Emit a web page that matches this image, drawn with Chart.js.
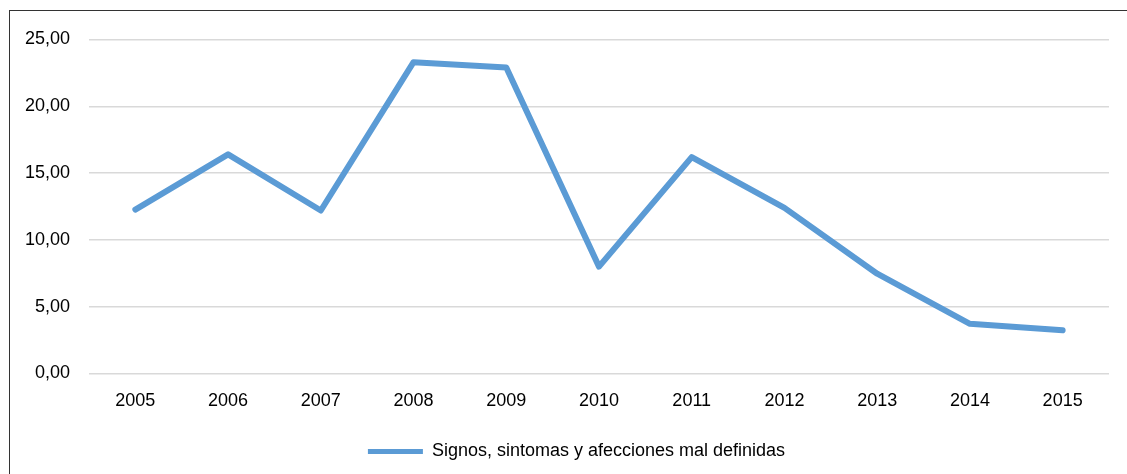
<!DOCTYPE html>
<html><head><meta charset="utf-8">
<script src="https://cdn.jsdelivr.net/npm/chart.js@4"></script>
<style>
html,body{margin:0;padding:0;background:#fff;overflow:hidden}
#wrap{position:relative;width:1127px;height:474px;overflow:hidden}
#frame{position:absolute;left:8.5px;top:9.5px;width:1300px;height:700px;border:1.5px solid #333;pointer-events:none}
canvas{position:absolute;left:0;top:0}
</style></head>
<body><div id="wrap"><canvas id="c" width="1127" height="474"></canvas><div id="frame"></div></div>
<script>
const years = ['2005','2006','2007','2008','2009','2010','2011','2012','2013','2014','2015'];
const values = [12.27, 16.4, 12.2, 23.3, 22.9, 8.0, 16.2, 12.4, 7.47, 3.72, 3.24];
const yMin = 0, yMax = 25, yStep = 5;
const seriesName = 'Signos, sintomas y afecciones mal definidas';
const FONT = "'Liberation Sans', Arial, sans-serif";

const legendShift = {
  id: 'legendShift',
  afterLayout(chart) {
    const lg = chart.legend;
    if (lg) { lg.left += 22; lg.right += 22; }
  }
};

new Chart(document.getElementById('c'), {
  type: 'line',
  data: {
    labels: years,
    datasets: [{
      label: seriesName,
      data: values,
      borderColor: '#5B9BD5',
      backgroundColor: '#5B9BD5',
      borderWidth: 6,
      borderCapStyle: 'round',
      borderJoinStyle: 'round',
      pointRadius: 0,
      tension: 0,
      fill: false
    }]
  },
  plugins: [legendShift],
  options: {
    responsive: false,
    animation: false,
    layout: { padding: { left: 0, right: 18, top: 39.5, bottom: 3.5 } },
    plugins: {
      tooltip: { enabled: false },
      legend: {
        position: 'bottom',
        labels: {
          color: '#000',
          font: { family: FONT, size: 18 },
          boxWidth: 55,
          boxHeight: 5,
          useBorderRadius: true,
          borderRadius: 2.5,
          padding: 14,
          generateLabels: (chart) => [{
            text: seriesName, fillStyle: '#5B9BD5', strokeStyle: '#5B9BD5', lineWidth: 0, datasetIndex: 0
          }]
        }
      }
    },
    scales: {
      x: {
        offset: true,
        grid: { display: false, drawTicks: false },
        border: { display: false },
        ticks: { color: '#000', font: { family: FONT, size: 18 }, padding: 16.7, maxRotation: 0 }
      },
      y: {
        min: yMin, max: yMax,
        afterFit: (s) => { s.width = 89; },
        grid: { color: '#d9d9d9', lineWidth: 1.5, drawTicks: false },
        border: { display: false },
        ticks: {
          stepSize: yStep, color: '#000', padding: 19,
          font: { family: FONT, size: 18 },
          callback: (v) => v.toFixed(2).replace('.', ',')
        }
      }
    }
  }
});
</script></body></html>
